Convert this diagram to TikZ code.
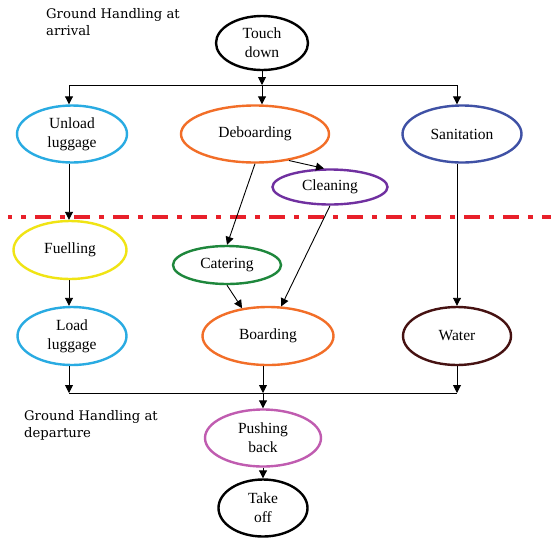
\documentclass[tikz,border=0pt]{standalone}
\usepackage{fontspec}
\setmainfont{Liberation Serif}
\newfontfamily\labelfont{DejaVu Serif}
\usetikzlibrary{shapes.geometric,arrows.meta}
\definecolor{cblue}{RGB}{41,171,226}
\definecolor{corange}{RGB}{242,110,40}
\definecolor{cnavy}{RGB}{63,81,165}
\definecolor{cpurple}{RGB}{112,48,160}
\definecolor{cyellow}{RGB}{240,228,20}
\definecolor{cgreen}{RGB}{30,135,60}
\definecolor{cbrown}{RGB}{70,18,18}
\definecolor{cpink}{RGB}{192,92,176}
\definecolor{cred}{RGB}{232,32,42}
\tikzset{
  ell/.style={ellipse, draw, line width=2.4pt, inner sep=0pt, align=center,
    font=\fontsize{15.5}{19}\selectfont},
  arr/.style={-{Triangle[length=8pt,width=8pt]}, line width=0.9pt},
  ln/.style={line width=0.9pt},
  lbl/.style={anchor=north west, inner sep=0pt, align=left,
    font=\labelfont\fontsize{13.2}{17}\selectfont}
}
\begin{document}
\begin{tikzpicture}[x=1pt,y=-1pt]
\useasboundingbox (0,0) rectangle (551,539);
\fill[white] (0,0) rectangle (551,539);

\node[lbl] (lab1) at (46,8) {Ground Handling at\\arrival};
\node[lbl] (lab2) at (24,410) {Ground Handling at\\departure};

\node[ell, minimum width=92pt, minimum height=54pt] (td) at (262,43) {Touch\\down};
\node[ell, draw=cblue, minimum width=110pt, minimum height=57pt] (unload) at (72,134) {Unload\\luggage};
\node[ell, draw=corange, minimum width=148pt, minimum height=57pt] (deb) at (255,134) {Deboarding};
\node[ell, draw=cnavy, minimum width=119pt, minimum height=57pt] (san) at (462,134) {Sanitation};
\node[ell, draw=cpurple, minimum width=115pt, minimum height=35pt] (clean) at (330,187) {Cleaning};
\node[ell, draw=cyellow, minimum width=113pt, minimum height=58pt] (fuel) at (70,250) {Fuelling};
\node[ell, draw=cgreen, minimum width=108pt, minimum height=38pt] (cat) at (227,265) {Catering};
\node[ell, draw=cblue, minimum width=109pt, minimum height=58pt] (load) at (72,336) {Load\\luggage};
\node[ell, draw=corange, minimum width=131pt, minimum height=58pt] (board) at (268,336) {Boarding};
\node[ell, draw=cbrown, minimum width=108pt, minimum height=58pt] (water) at (457,336) {Water};
\node[ell, draw=cpink, minimum width=116pt, minimum height=57pt] (push) at (263,438) {Pushing\\back};
\node[ell, minimum width=89pt, minimum height=57pt] (take) at (263,508) {Take\\off};

\coordinate (b1L) at (69,85);
\coordinate (b1M) at (262,85);
\coordinate (b1R) at (457,85);
\coordinate (b2L) at (69,393);
\coordinate (b2M) at (263,393);
\coordinate (b2R) at (457,393);
\coordinate (redL) at (8,217);
\coordinate (redR) at (551,217);

% red separator
\draw[cred, line width=4pt, dash pattern=on 16pt off 9pt on 5pt off 9pt, dash phase=12pt] (redL) -- (redR);

% top bus
\draw[arr] (td) -- (b1M);
\draw[ln] (b1L) -- (b1R);
\draw[arr] (b1L) -- (unload.north -| b1L);
\draw[arr] (b1M) -- (deb.north -| b1M);
\draw[arr] (b1R) -- (san.north -| b1R);

% middle
\draw[arr] (unload.south -| b1L) -- (fuel.north -| b1L);
\draw[arr] (fuel.south -| b1L) -- (load.north -| b1L);
\draw[arr] (san.south -| b1R) -- (water.north -| b1R);
\draw[arr] (deb.-38) -- (clean.108);
\draw[arr] (deb.south) -- (cat.north);
\draw[arr] (clean.south) -- (board.66);
\draw[arr] (cat.south) -- (board.133);

% bottom bus
\draw[arr] (load.south -| b2L) -- (b2L);
\draw[arr] (board.south -| b2M) -- (b2M);
\draw[arr] (water.south -| b2R) -- (b2R);
\draw[ln] (b2L) -- (b2R);
\draw[arr] (b2M) -- (push.north);
\draw[arr] (push) -- (take);
\end{tikzpicture}
\end{document}
